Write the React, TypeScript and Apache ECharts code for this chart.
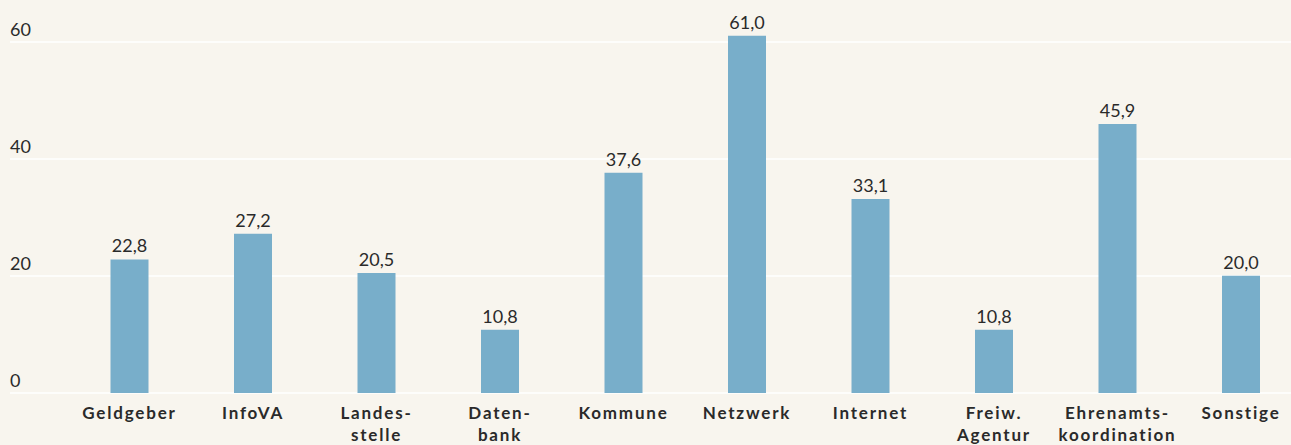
import React, { useEffect, useRef } from "react";
import * as echarts from "echarts";

const categories = [
  "Geldgeber",
  "InfoVA",
  "Landes-\nstelle",
  "Daten-\nbank",
  "Kommune",
  "Netzwerk",
  "Internet",
  "Freiw.\nAgentur",
  "Ehrenamts-\nkoordination",
  "Sonstige",
];
const values = [22.8, 27.2, 20.5, 10.8, 37.6, 61.0, 33.1, 10.8, 45.9, 20.0];
const yTicks = [0, 20, 40, 60];

const BG = "#f8f5ee";
const BAR = "#78aeca";
const TEXT = "#2a2a2a";

export default function App() {
  const ref = useRef<HTMLDivElement>(null);
  useEffect(() => {
    document.body.style.margin = "0";
    const chart = echarts.init(ref.current!, null, { renderer: "svg" });
    const top = 41.5;
    const bottom = 445 - 393;
    chart.setOption({
      animation: false,
      backgroundColor: BG,
      textStyle: { fontFamily: "Lato" },
      grid: [
        { left: 10, right: 0, top, bottom, outerBoundsMode: "none", containLabel: false },
        { left: 67.75, width: 1235, top, bottom, outerBoundsMode: "none", containLabel: false },
      ],
      xAxis: [
        { type: "category", gridIndex: 0, show: false, data: categories },
        {
          type: "category",
          gridIndex: 1,
          data: categories,
          axisLine: { show: false },
          axisTick: { show: false },
          axisLabel: {
            interval: 0,
            margin: 8,
            fontFamily: "Lato",
            fontWeight: "bold",
            fontSize: 17,
            lineHeight: 22,
            color: TEXT,
            verticalAlign: "top",
          },
        },
      ],
      yAxis: [
        {
          type: "value",
          gridIndex: 0,
          min: yTicks[0],
          max: yTicks[yTicks.length - 1],
          interval: 20,
          axisLine: { show: false },
          axisTick: { show: false },
          splitLine: { lineStyle: { color: "#ffffff", width: 1.5 } },
          axisLabel: {
            inside: true,
            margin: 0,
            verticalAlign: "bottom",
            padding: [0, 0, 4, 0],
            fontFamily: "Lato",
            fontSize: 18,
            color: TEXT,
          },
        },
        {
          type: "value",
          gridIndex: 1,
          min: yTicks[0],
          max: yTicks[yTicks.length - 1],
          interval: 20,
          show: false,
          splitLine: { show: false },
        },
      ],
      series: [
        {
          type: "bar",
          xAxisIndex: 1,
          yAxisIndex: 1,
          data: values,
          barWidth: 38,
          clip: false,
          itemStyle: { color: BAR },
          label: {
            show: true,
            position: "top",
            distance: 5,
            fontFamily: "Lato",
            fontSize: 18,
            color: TEXT,
            formatter: (p: any) => p.value.toFixed(1).replace(".", ","),
          },
        },
      ],
    });
    const texts = chart.getDom().querySelectorAll("text");
    texts.forEach((t: any) => {
      const st = t.getAttribute("style") || "";
      if (st.indexOf("bold") >= 0) {
        t.style.letterSpacing = "1.8px";
      }
    });
    return () => chart.dispose();
  }, []);
  return <div ref={ref} style={{ width: 1291, height: 445 }} />;
}
